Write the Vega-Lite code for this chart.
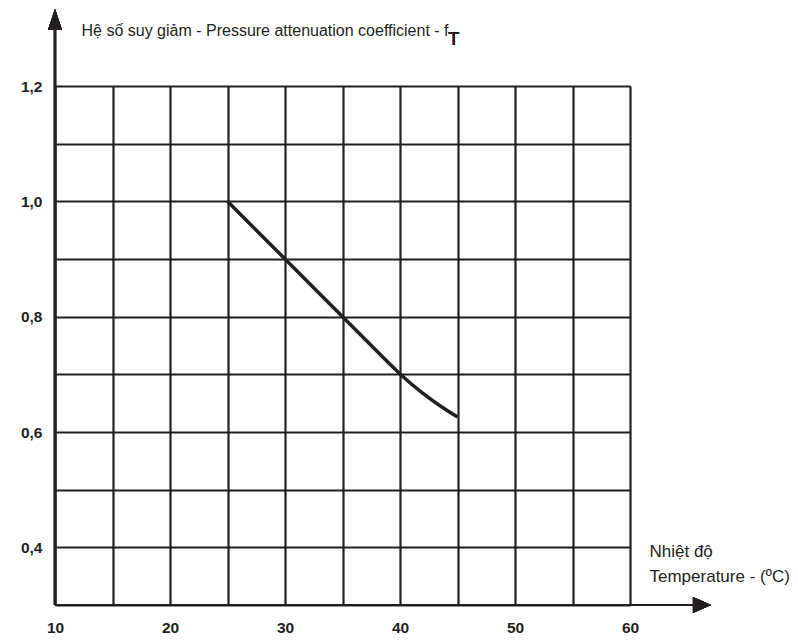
{
  "$schema": "https://vega.github.io/schema/vega-lite/v6.json",
  "width": 575,
  "height": 519,
  "autosize": {"type": "none"},
  "padding": {"left": 55, "top": 86, "right": 168, "bottom": 35},
  "background": "white",
  "config": {"view": {"stroke": null}, "font": "Liberation Sans"},
  "data": {"values": [
    {"temp": 25, "coef": 1.0},
    {"temp": 30, "coef": 0.9},
    {"temp": 35, "coef": 0.8},
    {"temp": 39, "coef": 0.72},
    {"temp": 40, "coef": 0.7},
    {"temp": 42, "coef": 0.666},
    {"temp": 44, "coef": 0.638},
    {"temp": 45, "coef": 0.626}
  ]},
  "layer": [
    {
      "mark": {"type": "line", "color": "#231f20", "strokeWidth": 3.5, "interpolate": "basis"},
      "encoding": {
        "x": {
          "field": "temp", "type": "quantitative",
          "scale": {"domain": [10, 60], "nice": false, "zero": false},
          "axis": {
            "values": [10, 15, 20, 25, 30, 35, 40, 45, 50, 55, 60],
            "grid": true, "gridColor": "#231f20", "gridWidth": 2.2, "gridOpacity": 1,
            "domain": false, "ticks": false,
            "labelExpr": "datum.value % 10 == 0 ? datum.label : ''",
            "labelFont": "Liberation Sans", "labelFontSize": 15.5, "labelFontWeight": "bold",
            "labelColor": "#231f20", "labelPadding": 15, "labelFlush": false, "labelOverlap": false,
            "title": ["Nhiệt độ", "Temperature - (ºC)"],
            "titleFont": "Liberation Sans", "titleFontSize": 17, "titleFontWeight": "normal",
            "titleColor": "#231f20", "titleAlign": "left", "titleBaseline": "middle",
            "titleLineHeight": 25, "titleX": 594, "titleY": -54
          }
        },
        "y": {
          "field": "coef", "type": "quantitative",
          "scale": {"domain": [0.3, 1.2], "nice": false, "zero": false},
          "axis": {
            "values": [0.3, 0.4, 0.5, 0.6, 0.7, 0.8, 0.9, 1.0, 1.1, 1.2],
            "grid": true, "gridColor": "#231f20", "gridWidth": 2.2, "gridOpacity": 1,
            "domain": false, "ticks": false,
            "labelExpr": "round(datum.value*10) % 2 == 0 ? replace(format(datum.value, '.1f'), '.', ',') : ''",
            "labelFont": "Liberation Sans", "labelFontSize": 15.5, "labelFontWeight": "bold",
            "labelColor": "#231f20", "labelPadding": 13, "labelOverlap": false, "labelFlush": false,
            "title": "Hệ số suy giảm - Pressure attenuation coefficient - f",
            "titleFont": "Liberation Sans", "titleFontSize": 16, "titleFontWeight": "normal",
            "titleColor": "#231f20", "titleAngle": 0, "titleAlign": "left", "titleBaseline": "middle",
            "titleX": 26, "titleY": -56
          }
        }
      }
    },
    {
      "mark": {"type": "rule", "color": "#231f20", "strokeWidth": 2.2},
      "encoding": {"x": {"datum": 10}, "x2": {"datum": 66}, "y": {"datum": 0.3}}
    },
    {
      "mark": {"type": "rule", "color": "#231f20", "strokeWidth": 2.2},
      "encoding": {"x": {"datum": 10}, "y": {"datum": 0.3}, "y2": {"datum": 1.31}}
    },
    {
      "mark": {"type": "point", "shape": "M0,0 L0.7,2.1 L-0.7,2.1 Z", "size": 400, "filled": true, "color": "#231f20", "opacity": 1, "strokeWidth": 0},
      "encoding": {"x": {"datum": 10}, "y": {"datum": 1.3335}}
    },
    {
      "mark": {"type": "point", "shape": "M0,0 L-1.8,-0.8 L-1.8,0.8 Z", "size": 400, "filled": true, "color": "#231f20", "opacity": 1, "strokeWidth": 0},
      "encoding": {"x": {"datum": 67.04}, "y": {"datum": 0.3}}
    },
    {
      "mark": {"type": "text", "text": "T", "font": "Liberation Sans", "fontSize": 18, "align": "left", "baseline": "middle", "fill": "#231f20"},
      "encoding": {"x": {"datum": 44.2}, "y": {"datum": 1.279}}
    }
  ]
}
